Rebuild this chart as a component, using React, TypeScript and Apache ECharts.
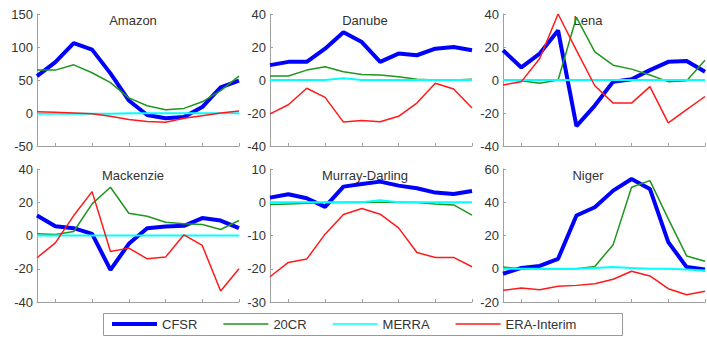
import React, { useEffect, useRef } from 'react';
import * as echarts from 'echarts';

const months = ['1', '2', '3', '4', '5', '6', '7', '8', '9', '10', '11', '12'];
const seriesNames = ['CFSR', '20CR', 'MERRA', 'ERA-Interim'];
const seriesColors = ['#0000ff', '#1e961e', '#00ffff', '#ff1a1a'];
const seriesWidths = [4, 1.5, 2, 1.5];

const basinNames = ['Amazon', 'Danube', 'Lena', 'Mackenzie', 'Murray-Darling', 'Niger'];
const yMins = [-50, -40, -40, -40, -30, -20];
const yMaxs = [150, 40, 40, 40, 10, 60];
const yIntervals = [50, 20, 20, 20, 10, 20];

const amazonCFSR = [56, 77, 106, 96, 60, 19, -3, -8, -6, 9, 39, 49];
const amazon20CR = [65, 65, 73, 61, 46, 23, 11, 5, 7, 17, 34, 56];
const amazonMERRA = [-1, -1, -1, -1, -1, -0.5, -0.5, -0.5, -0.5, -0.5, -0.5, -0.5];
const amazonERA = [2, 1, 0, -1, -5, -10, -13, -14, -8, -4, 0, 3];

const danubeCFSR = [9, 11, 11, 19, 29, 23, 11, 16, 15, 19, 20, 18];
const danube20CR = [2.4, 2.4, 6, 8, 5, 3.4, 3, 2, 0.5, 0, 0, 0.5];
const danubeMERRA = [0, 0, 0, 0, 1, 0, 0, 0, 0, 0, 0, 0];
const danubeERA = [-20.5, -15, -5, -10.5, -25.5, -24.5, -25.3, -22, -14, -2, -5.5, -17];

const lenaCFSR = [18, 7.6, 16, 30, -28, -15.5, -1, 0.5, 6, 11, 11.5, 5];
const lena20CR = [0, -0.5, -2, 0, 38, 17, 9, 6.6, 3, -1, -0.5, 12];
const lenaMERRA = [0, 0, 0, 0, 0, 0, 0, 0, 0, 0, 0, 0];
const lenaERA = [-3, -1, 13, 40, 18, -3.5, -14, -14, -4, -26, -18, -10];

const mackenzieCFSR = [12, 5.6, 4.4, 1, -20.7, -5, 4.4, 5.4, 5.8, 10.5, 9, 4.4];
const mackenzie20CR = [1, 0.6, 2.4, 19, 29, 13.4, 11.6, 8, 7, 6.6, 3.6, 9];
const mackenzieMERRA = [0, 0, 0, 0, 0, 0, 0, 0, 0, 0, 0, 0];
const mackenzieERA = [-13.4, -4.4, 12, 26.4, -9.6, -7.6, -14, -13, 0.4, -6, -33.4, -20];

const murrayCFSR = [1.4, 2.4, 1.2, -1.4, 4.7, 5.5, 6.2, 5, 4.2, 2.9, 2.5, 3.4];
const murray20CR = [-0.7, -0.5, -0.3, -0.1, -0.1, 0, 0, 0, -0.1, -0.5, -0.8, -3.9];
const murrayMERRA = [0, 0, 0, 0, 0, 0, 0.6, 0, 0, 0, 0, 0];
const murrayERA = [-22.4, -18.1, -17.1, -9.6, -3.7, -1.9, -3.6, -7.7, -15.1, -16.6, -16.6, -19.4];

const nigerCFSR = [-3, 0.5, 1.7, 6, 32, 37, 47, 54, 48, 16, 1, -0.5];
const niger20CR = [1, 0, 0, 0, 0, 1.3, 14.5, 49, 53, 30, 7.7, 4.5];
const nigerMERRA = [0, 0, 0, 0, 0, 0.5, 1, 0.5, 0, 0, -0.5, -1];
const nigerERA = [-13, -11.6, -12.6, -10.5, -10, -9, -6.3, -1.5, -4.3, -12, -15.6, -13.6];

const basinData = [
  [amazonCFSR, amazon20CR, amazonMERRA, amazonERA],
  [danubeCFSR, danube20CR, danubeMERRA, danubeERA],
  [lenaCFSR, lena20CR, lenaMERRA, lenaERA],
  [mackenzieCFSR, mackenzie20CR, mackenzieMERRA, mackenzieERA],
  [murrayCFSR, murray20CR, murrayMERRA, murrayERA],
  [nigerCFSR, niger20CR, nigerMERRA, nigerERA],
];

const FONT = '"Liberation Sans", Arial, sans-serif';
const THICK_ICON = 'path://M0,0M45,14M0,5L45,5L45,9L0,9Z';
const THIN_ICON = 'path://M0,0M45,14M0,6.25L45,6.25L45,7.75L0,7.75Z';

export default function App() {
  const ref = useRef<HTMLDivElement>(null);
  useEffect(() => {
    if (!ref.current) return;
    const chart = echarts.init(ref.current, undefined, { renderer: 'svg' });
    const gridLefts = [37, 270, 503];
    const gridTops = [14, 169];
    const gridHeights = [132, 133];
    const titleX = [133, 365, 588];
    const titleY = [20, 175];
    const axisColor = '#a0a0a0';

    const grids: any[] = [];
    const xAxes: any[] = [];
    const yAxes: any[] = [];
    const series: any[] = [];
    const graphics: any[] = [];

    basinNames.forEach((name, b) => {
      const col = b % 3;
      const row = Math.floor(b / 3);
      grids.push({ left: gridLefts[col], top: gridTops[row], width: 202, height: gridHeights[row], containLabel: false });
      xAxes.push({
        type: 'category',
        gridIndex: b,
        data: months,
        boundaryGap: false,
        axisLine: { onZero: false, lineStyle: { color: axisColor, width: 1 } },
        axisTick: { show: true, inside: true, length: 3, interval: (i: number) => i % 2 === 1, lineStyle: { color: axisColor } },
        axisLabel: { show: false },
        splitLine: { show: false },
      });
      yAxes.push({
        type: 'value',
        gridIndex: b,
        min: yMins[b],
        max: yMaxs[b],
        interval: yIntervals[b],
        axisLine: { show: true, lineStyle: { color: axisColor, width: 1 } },
        axisTick: { show: true, inside: true, length: 3, lineStyle: { color: axisColor } },
        axisLabel: { color: '#333', fontSize: 13, fontFamily: FONT, margin: 4 },
        splitLine: { show: false },
      });
      basinData[b].forEach((vals, d) => {
        series.push({
          type: 'line',
          name: seriesNames[d],
          xAxisIndex: b,
          yAxisIndex: b,
          data: vals,
          symbol: 'none',
          showSymbol: false,
          lineStyle: { color: seriesColors[d], width: seriesWidths[d] },
          itemStyle: { color: seriesColors[d] },
          z: 2 + d,
        });
      });
      graphics.push({
        type: 'text',
        x: titleX[col],
        y: titleY[row],
        z: 1,
        style: { text: name, fill: '#333', font: `13px ${FONT}`, textAlign: 'center', textVerticalAlign: 'middle' },
      });
    });

    graphics.push({
      type: 'rect',
      shape: { x: 103.5, y: 313.5, width: 519, height: 22 },
      style: { fill: '#fff', stroke: '#999', lineWidth: 1 },
      z: 0,
    });

    chart.setOption({
      animation: false,
      backgroundColor: '#fff',
      grid: grids,
      xAxis: xAxes,
      yAxis: yAxes,
      series,
      graphic: graphics,
      legend: {
        data: seriesNames.map((n, i) => ({ name: n, icon: i === 0 ? THICK_ICON : THIN_ICON })),
        left: 112,
        top: 317,
        padding: 0,
        itemGap: 26,
        itemWidth: 45,
        itemHeight: 14,
        textStyle: { color: '#333', fontSize: 13, fontFamily: FONT },
        z: 10,
      },
    });
    return () => chart.dispose();
  }, []);
  return <div ref={ref} style={{ position: 'fixed', left: 0, top: 0, width: 707, height: 337 }} />;
}
